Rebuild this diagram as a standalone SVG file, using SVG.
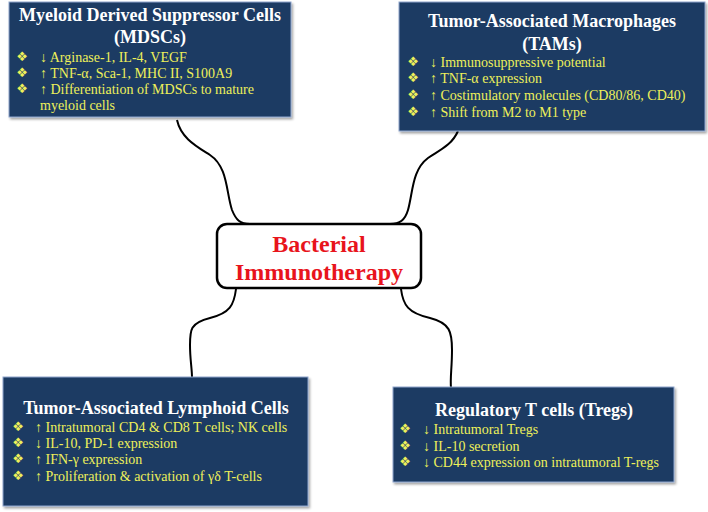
<svg xmlns="http://www.w3.org/2000/svg" width="708" height="512" viewBox="0 0 708 512">
<defs>
<filter id="sh" x="-5%" y="-5%" width="112%" height="115%">
<feDropShadow dx="1.5" dy="2" stdDeviation="1.2" flood-color="#000" flood-opacity="0.35"/>
</filter>
</defs>
<style>
.box{fill:#1d3a64;stroke:#8fa6cc;stroke-width:1;filter:url(#sh)}
.title{font-family:"Liberation Serif","Times New Roman",serif;font-weight:bold;font-size:18px;fill:#ffffff;text-anchor:middle}
.item{font-family:"Liberation Serif","Times New Roman",serif;font-size:14px;fill:#eef05a}
.bul{font-family:"DejaVu Sans",sans-serif;font-size:13px;fill:#eef05a;text-anchor:middle}
.conn{fill:none;stroke:#000;stroke-width:2}
.center{fill:#fff;stroke:#000;stroke-width:2.5}
.ctext{font-family:"Liberation Serif","Times New Roman",serif;font-weight:bold;font-size:24px;fill:#e8141c;text-anchor:middle}
</style>
<rect width="708" height="512" fill="#fff"/>
<g id="connectors">
<path class="conn" d="M177,120 C181,138 196,146 210,155 C228,167 226,192 232,210 C236,220 240,224 250,224"/>
<path class="conn" d="M458,131 C452,145 440,150 428,158 C412,170 413,192 408,210 C405,220 400,224 390,224"/>
<path class="conn" d="M236,289 C234,305 230,313 210,318 C190,323 190,330 190,345 C190,360 192,368 192,378"/>
<path class="conn" d="M401,289 C403,305 408,313 430,318 C450,323 452,332 452,350 C452,368 450,378 451,388"/>
</g>
<g id="center">
<rect class="center" x="217" y="224" width="204" height="64" rx="10"/>
<text class="ctext" x="319" y="252">Bacterial</text>
<text class="ctext" x="319" y="280">Immunotherapy</text>
</g>
<g id="mdsc">
<rect class="box" x="9" y="2" width="282" height="115"/>
<text class="title" x="150" y="21">Myeloid Derived Suppressor Cells</text>
<text class="title" x="150" y="43">(MDSCs)</text>
<text class="bul" x="22" y="61">❖</text><text class="item" x="40" y="62">↓ Arginase-1, IL-4, VEGF</text>
<text class="bul" x="22" y="77">❖</text><text class="item" x="40" y="78">↑ TNF-α, Sca-1, MHC II, S100A9</text>
<text class="bul" x="22" y="93">❖</text><text class="item" x="40" y="94">↑ Differentiation of MDSCs to mature</text>
<text class="item" x="40" y="110">myeloid cells</text>
</g>
<g id="tams">
<rect class="box" x="399" y="2" width="306" height="129"/>
<text class="title" x="552" y="27">Tumor-Associated Macrophages</text>
<text class="title" x="552" y="50">(TAMs)</text>
<text class="bul" x="413" y="66">❖</text><text class="item" x="430" y="67">↓ Immunosuppressive potential</text>
<text class="bul" x="413" y="82">❖</text><text class="item" x="430" y="83">↑ TNF-α expression</text>
<text class="bul" x="413" y="99">❖</text><text class="item" x="430" y="100">↑ Costimulatory molecules (CD80/86, CD40)</text>
<text class="bul" x="413" y="116">❖</text><text class="item" x="430" y="117">↑ Shift from M2 to M1 type</text>
</g>
<g id="lymphoid">
<rect class="box" x="3" y="377" width="305" height="129"/>
<text class="title" x="156" y="414">Tumor-Associated Lymphoid Cells</text>
<text class="bul" x="18" y="431">❖</text><text class="item" x="35" y="432">↑ Intratumoral CD4 &amp; CD8 T cells; NK cells</text>
<text class="bul" x="18" y="447">❖</text><text class="item" x="35" y="448">↓ IL-10, PD-1 expression</text>
<text class="bul" x="18" y="463">❖</text><text class="item" x="35" y="464">↑ IFN-γ expression</text>
<text class="bul" x="18" y="480">❖</text><text class="item" x="35" y="481">↑ Proliferation &amp; activation of γδ T-cells</text>
</g>
<g id="tregs">
<rect class="box" x="393" y="387" width="281" height="95"/>
<text class="title" x="534" y="416">Regulatory T cells (Tregs)</text>
<text class="bul" x="405" y="433">❖</text><text class="item" x="423" y="434">↓ Intratumoral Tregs</text>
<text class="bul" x="405" y="450">❖</text><text class="item" x="423" y="451">↓ IL-10 secretion</text>
<text class="bul" x="405" y="466">❖</text><text class="item" x="423" y="467">↓ CD44 expression on intratumoral T-regs</text>
</g>
</svg>
